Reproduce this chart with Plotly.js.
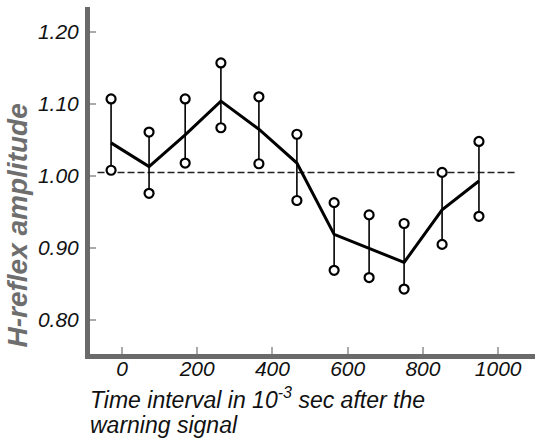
<!DOCTYPE html>
<html>
<head>
<meta charset="utf-8">
<script src="https://cdn.plot.ly/plotly-3.0.1.min.js"></script>
<style>html,body{margin:0;padding:0;background:#fff;}#chart{width:535px;height:439px;}</style>
</head>
<body>
<div id="chart"></div>
<script>
// Time interval (10^-3 s) at which each measurement was drawn
const timeMs = [-29, 72, 168, 263, 364, 465, 564, 657, 750, 851, 949];
// Mean H-reflex amplitude (relative)
const meanAmp = [1.046, 1.013, 1.057, 1.104, 1.065, 1.018, 0.919, 0.899, 0.880, 0.953, 0.993];
// Upper and lower limits (circles)
const upperAmp = [1.107, 1.061, 1.107, 1.157, 1.110, 1.058, 0.963, 0.946, 0.934, 1.005, 1.048];
const lowerAmp = [1.008, 0.976, 1.018, 1.067, 1.017, 0.966, 0.869, 0.859, 0.843, 0.905, 0.944];
// Reference (control) level, dashed
const refX = [-65, 1050];
const refY = [1.005, 1.005];
// Axis ticks
const xTicks = [0, 200, 400, 600, 800, 1000];
const xTickText = ["0", "200", "400", "600", "800", "1000"];
const yTicks = [0.8, 0.9, 1.0, 1.1, 1.2];
const yTickText = ["0.80", "0.90", "1.00", "1.10", "1.20"];

const tickFont = {family: '"Liberation Sans", "DejaVu Sans", sans-serif', size: 21, color: '#111', style: 'italic'};
const labelFont = {family: '"Liberation Sans", "DejaVu Sans", sans-serif', size: 23, color: '#111', style: 'italic'};
const ital = s => '<i>' + s + '</i>';

const traces = [
  {x: refX, y: refY, mode: 'lines', line: {color: '#222', width: 1.5, dash: '7px,3px'}, hoverinfo: 'skip', showlegend: false},
  {x: timeMs, y: meanAmp, mode: 'lines', line: {color: '#000', width: 3},
   error_y: {type: 'data', symmetric: false,
     array: upperAmp.map((u, i) => u - meanAmp[i]),
     arrayminus: lowerAmp.map((l, i) => meanAmp[i] - l),
     color: '#000', thickness: 1.6, width: 0},
   showlegend: false},
  {x: timeMs.concat(timeMs), y: upperAmp.concat(lowerAmp), mode: 'markers',
   marker: {symbol: 'circle', size: 9, color: '#fff', line: {color: '#000', width: 2.2}}, showlegend: false}
];

const layout = {
  width: 535, height: 439,
  margin: {l: 90, r: 0, t: 7, b: 85},
  paper_bgcolor: '#fff', plot_bgcolor: '#fff',
  showlegend: false,
  xaxis: {range: [-85, 1098], tickvals: xTicks, ticktext: xTickText.map(ital), ticks: 'inside', ticklen: 7, tickwidth: 2, tickcolor: '#aaa',
    showline: true, linecolor: '#6a6a6a', linewidth: 5, showgrid: false, zeroline: false, tickfont: tickFont, ticklabelstandoff: -8},
  yaxis: {range: [0.7528, 1.2347], tickvals: yTicks, ticktext: yTickText.map(ital), ticks: 'inside', ticklen: 6, tickwidth: 2, tickcolor: '#aaa',
    showline: true, linecolor: '#6a6a6a', linewidth: 5, showgrid: false, zeroline: false, tickfont: tickFont, ticklabelstandoff: 2},
  annotations: [
    {text: ital('H-reflex amplitude'), xref: 'paper', yref: 'paper', x: -0.162, y: 0.37, xanchor: 'center', yanchor: 'middle',
     textangle: -90, showarrow: false, font: {family: '"Liberation Sans", "DejaVu Sans", sans-serif', size: 28, color: '#6e6e6e', weight: 'bold', style: 'italic'}},
    {text: ital('Time interval in 10<sup>-3</sup> sec after the'), xref: 'paper', yref: 'paper', x: -0.005, y: -0.128, xanchor: 'left', yanchor: 'middle',
     showarrow: false, font: labelFont},
    {text: ital('warning signal'), xref: 'paper', yref: 'paper', x: -0.005, y: -0.204, xanchor: 'left', yanchor: 'middle',
     showarrow: false, font: labelFont}
  ]
};

Plotly.newPlot('chart', traces, layout, {displayModeBar: false, staticPlot: true});
</script>
</body>
</html>
